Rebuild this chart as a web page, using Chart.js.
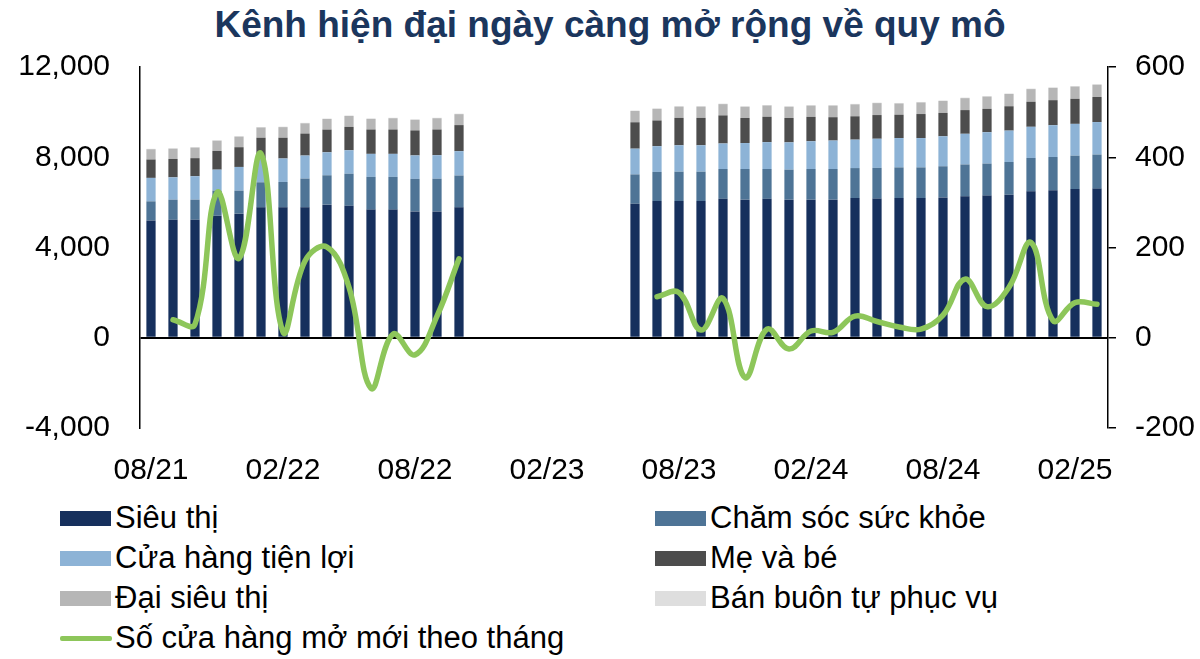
<!DOCTYPE html>
<html>
<head>
<meta charset="utf-8">
<script src="https://cdn.jsdelivr.net/npm/chart.js@4.4.1/dist/chart.umd.min.js"></script>
<style>
  html, body { margin: 0; padding: 0; background: #fff; }
  body { width: 1200px; height: 659px; position: relative; overflow: hidden; font-family: "Liberation Sans", Arial, sans-serif; }
  #title { position: absolute; left: 0; width: 1220px; top: 4px; text-align: center; font-weight: bold; font-size: 37px; line-height: 42px; color: #1B365D; }
  #wrap { position: absolute; left: 0; top: 0; width: 1200px; height: 500px; }
  .lg { position: absolute; font-size: 31px; color: #000; line-height: 34px; white-space: nowrap; }
  .sw { position: absolute; width: 51px; height: 15px; }
  .ln { position: absolute; width: 52px; height: 5px; border-radius: 2px; }
</style>
</head>
<body>
<div id="title">Kênh hiện đại ngày càng mở rộng về quy mô</div>
<div id="wrap"><canvas id="c" width="1200" height="500"></canvas></div>
<div id="legend"></div>
<script>
const months = ['08/21','09/21','10/21','11/21','12/21','01/22','02/22','03/22','04/22','05/22','06/22','07/22','08/22','09/22','10/22','11/22','12/22','01/23','02/23','03/23','04/23','05/23','06/23','07/23','08/23','09/23','10/23','11/23','12/23','01/24','02/24','03/24','04/24','05/24','06/24','07/24','08/24','09/24','10/24','11/24','12/24','01/25','02/25','03/25'];

const sieuThi   = [5200,5230,5230,5410,5500,5780,5780,5780,5900,5850,5680,5680,5600,5600,5780, null,null,null,null,null,null,null, 5940,6060,6060,6060,6160,6120,6160,6120,6120,6120,6190,6170,6190,6190,6220,6270,6300,6340,6490,6540,6590,6610];
const chamSoc   = [845,890,890,1110,1020,1110,1125,1275,1300,1420,1450,1450,1440,1450,1410, null,null,null,null,null,null,null, 1300,1290,1300,1300,1320,1360,1320,1330,1360,1360,1330,1360,1360,1360,1380,1410,1420,1450,1480,1470,1480,1510];
const cuaHang   = [1040,990,1040,930,1050,1040,1040,1020,1020,1040,1020,1020,1040,1040,1080, null,null,null,null,null,null,null, 1140,1140,1170,1170,1130,1150,1190,1210,1230,1260,1260,1290,1300,1300,1330,1360,1390,1390,1380,1410,1410,1440];
const meVaBe    = [815,815,800,830,875,935,920,975,1005,1035,1080,1080,1110,1140,1155, null,null,null,null,null,null,null, 1170,1140,1215,1215,1245,1110,1125,1080,1080,1035,1035,1050,1035,1065,1035,1050,1035,1080,1110,1110,1110,1110];
const daiSieuThi= [455,455,470,455,470,455,470,455,470,485,470,500,470,500,485, null,null,null,null,null,null,null, 500,515,500,500,500,500,500,500,500,515,530,530,500,515,530,530,545,545,560,545,545,545];
const banBuon   = [19,19,19,19,19,19,20,20,20,20,20,20,20,20,20, null,null,null,null,null,null,null, 21,21,21,21,21,21,21,21,21,21,21,21,21,21,22,22,22,22,22,22,22,22];
const moMoi     = [null,40,30,322,176,408,13,170,201,112,-112,8,-38,48,175, null,null,null,null,null,null,null, null,91,100,17,87,-88,19,-25,15,12,48,36,24,19,50,130,69,112,211,38,78,74];

const leftTicks = [-4000, 0, 4000, 8000, 12000];
const rightTicks = [-200, 0, 200, 400, 600];

const series = [
  { label: 'Siêu thị', data: sieuThi, color: '#16305D' },
  { label: 'Chăm sóc sức khỏe', data: chamSoc, color: '#4E7496' },
  { label: 'Cửa hàng tiện lợi', data: cuaHang, color: '#8DB3D6' },
  { label: 'Mẹ và bé', data: meVaBe, color: '#4D4D4D' },
  { label: 'Đại siêu thị', data: daiSieuThi, color: '#B6B6B6' },
  { label: 'Bán buôn tự phục vụ', data: banBuon, color: '#DEDEDE' }
];
const lineSeries = { label: 'Số cửa hàng mở mới theo tháng', data: moMoi, color: '#8DC65A' };

Chart.defaults.font.family = '"Liberation Sans", Arial, sans-serif';
Chart.defaults.color = '#000';

const datasets = series.map(s => ({
  type: 'bar', label: s.label, data: s.data, backgroundColor: s.color,
  yAxisID: 'y', stack: 's', order: 2, categoryPercentage: 1, barPercentage: 0.42
}));
datasets.push({
  type: 'line', label: lineSeries.label, data: lineSeries.data, yAxisID: 'y1',
  borderColor: lineSeries.color, borderWidth: 5.5, pointRadius: 0, tension: 0.4,
  spanGaps: false, order: 0, borderCapStyle: 'round', borderJoinStyle: 'round'
});

new Chart(document.getElementById('c'), {
  data: { labels: months, datasets },
  options: {
    responsive: false, animation: false, devicePixelRatio: 1,
    layout: { padding: { top: 67, bottom: 0, left: 0, right: 0 } },
    plugins: { legend: { display: false }, tooltip: { enabled: false }, title: { display: false } },
    scales: {
      x: {
        stacked: true, offset: true,
        grid: { display: false }, border: { display: false },
        ticks: { autoSkip: false, maxRotation: 0, minRotation: 0, padding: 17, font: { size: 30 },
          callback: function(v, i) { return i % 6 === 0 ? months[i] : ''; } },
        afterFit: s => { s.height = 72; }
      },
      y: {
        position: 'left', stacked: true, min: leftTicks[0], max: leftTicks[leftTicks.length-1],
        afterBuildTicks: s => { s.ticks = leftTicks.map(v => ({ value: v })); },
        ticks: { padding: 30, font: { size: 30 }, callback: v => v.toLocaleString('en-US') },
        grid: { drawTicks: false, lineWidth: 2, color: c => (c.tick && c.tick.value === 0) ? '#000' : 'rgba(0,0,0,0)' },
        border: { display: true, color: '#000', width: 1.5 },
        afterFit: s => { s.width = 140; }
      },
      y1: {
        position: 'right', min: rightTicks[0], max: rightTicks[rightTicks.length-1],
        afterBuildTicks: s => { s.ticks = rightTicks.map(v => ({ value: v })); },
        ticks: { padding: 19, font: { size: 30 } },
        grid: { drawOnChartArea: false, drawTicks: true, tickLength: 8, color: '#000', lineWidth: 1.5 },
        border: { display: true, color: '#000', width: 1.5 },
        afterFit: s => { s.width = 92; }
      }
    }
  }
});

// HTML legend (two columns)
const lg = document.getElementById('legend');
const items = [
  { s: series[0], col: 0, row: 0 }, { s: series[1], col: 1, row: 0 },
  { s: series[2], col: 0, row: 1 }, { s: series[3], col: 1, row: 1 },
  { s: series[4], col: 0, row: 2 }, { s: series[5], col: 1, row: 2 },
  { s: lineSeries, col: 0, row: 3, line: true }
];
items.forEach(it => {
  const x = it.col === 0 ? 60 : 655;
  const cy = 518 + it.row * 40;
  const sw = document.createElement('div');
  if (it.line) { sw.className = 'ln'; sw.style.top = (cy - 2) + 'px'; }
  else { sw.className = 'sw'; sw.style.top = (cy - 7) + 'px'; }
  sw.style.left = x + 'px';
  sw.style.background = it.s.color;
  lg.appendChild(sw);
  const t = document.createElement('div');
  t.className = 'lg';
  t.textContent = it.s.label;
  t.style.left = (x + 55) + 'px';
  t.style.top = (cy - 17) + 'px';
  lg.appendChild(t);
});
</script>
</body>
</html>
